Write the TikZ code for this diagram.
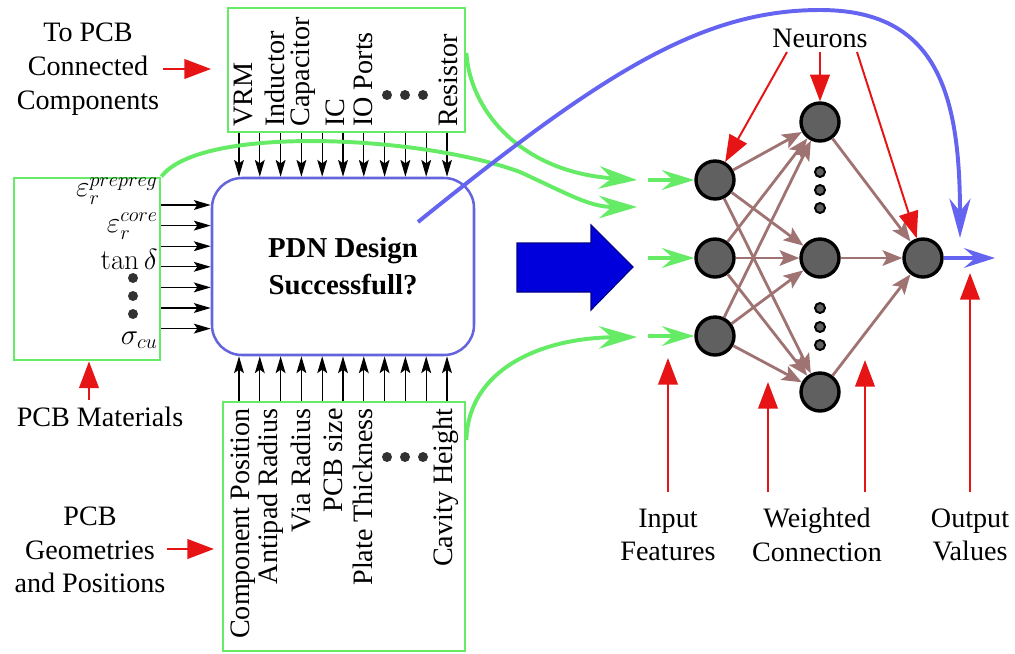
\documentclass[tikz,border=0pt]{standalone}
\usepackage[no-math]{fontspec}
\setmainfont{Liberation Serif}
\usetikzlibrary{arrows.meta,calc}
\newdimen\pxu \pxu=0.025cm
\definecolor{lgreen}{RGB}{102,235,102}
\definecolor{bbox}{RGB}{100,100,220}
\definecolor{bcurve}{RGB}{100,100,240}
\definecolor{bigfill}{RGB}{0,0,220}
\definecolor{bigdraw}{RGB}{0,0,140}
\definecolor{brn}{RGB}{160,115,115}
\definecolor{rd}{RGB}{230,20,20}
\definecolor{ngray}{RGB}{96,96,96}
\definecolor{dotc}{RGB}{50,50,50}
\tikzset{
  gbox/.style={draw=lgreen, line width=2pt, inner sep=0},
  pdnbox/.style={draw=bbox, line width=1.8pt, rounded corners=0.75cm, align=center, font=\fontsize{20.5}{26.5}\selectfont\bfseries},
  blk/.style={line width=0.9pt, -{Stealth[length=12pt,width=7pt,inset=2.5pt]}},
  redarr/.style={draw=rd, line width=1.4pt, -{Triangle[length=19pt,width=14pt]}},
  garr/.style={draw=lgreen, line width=2.8pt, -{Stealth[length=27pt,width=16pt,inset=9pt]}},
  gshort/.style={draw=lgreen, line width=2.8pt, -{Stealth[length=23pt,width=14pt,inset=8pt]}},
  brarr/.style={draw=brn, line width=2pt, -{Stealth[length=14pt,width=11pt,inset=3pt]}},
  bcur/.style={draw=bcurve, line width=2.8pt, -{Stealth[length=28pt,width=15pt,inset=9pt]}},
  neuron/.style={circle, draw=black, line width=2.4pt, fill=ngray, minimum size=38\pxu, inner sep=0},
  sdot/.style={circle, draw=black, line width=1.4pt, fill=ngray, minimum size=10\pxu, inner sep=0},
  bdot/.style={circle, fill=dotc, minimum size=10\pxu, inner sep=0},
  lbl/.style={align=center, inner sep=1pt},
}
\begin{document}
\begin{tikzpicture}[x=0.025cm, y=-0.025cm, font=\fontsize{20}{24}\selectfont]
\useasboundingbox (0,0) rectangle (1015,653);

% boxes
\node[gbox, minimum width=237\pxu, minimum height=124\pxu] (tb) at (346.5,70) {};
\node[gbox, minimum width=146\pxu, minimum height=182\pxu] (lb) at (87,269) {};
\node[gbox, minimum width=242\pxu, minimum height=249\pxu] (bb) at (344,526.5) {};
\node[pdnbox, minimum width=262\pxu, minimum height=177\pxu] (pdn) at (343,266.5) {PDN Design\\Successfull?};

% top box labels
\foreach \x/\t [count=\i] in {252/VRM, 284/Inductor, 309/Capacitor, 344/IC, 372/IO Ports, 457/Resistor}
  \node[rotate=90, anchor=base west, inner sep=0] (tl\i) at (\x,127) {\t};
\foreach \x [count=\i] in {387,405,423} \node[bdot] (td\i) at (\x,95) {};

% bottom box labels
\foreach \x/\t [count=\i] in {249/Component Position, 277/Antipad Radius, 310/Via Radius, 342/PCB size, 372/Plate Thickness, 452/Cavity Height}
  \node[rotate=90, anchor=base east, inner sep=0] (bl\i) at (\x,408) {\t};
\foreach \x [count=\i] in {387,405,423} \node[bdot] (bd\i) at (\x,457) {};

% left box labels
\node[anchor=east, align=right, inner sep=0, font=\fontsize{20}{25}\selectfont] (m1) at (158,208.5) {$\varepsilon_r^{prepreg}$\\$\varepsilon_r^{core}$};
\node[anchor=east, inner sep=0] (m3) at (158,259) {$\tan\delta$};
\node[anchor=east, inner sep=0] (m4) at (158,340) {$\sigma_{cu}$};
\foreach \y [count=\i] in {278,296,314} \node[bdot] (ld\i) at (133,\y) {};

% black arrows
\foreach \i in {0,...,10} {
  \draw[blk] (tb.south -| {239+20.8*\i},0) -- (pdn.north -| {239+20.8*\i},0);
  \draw[blk] (bb.north -| {239+20.8*\i},0) -- (pdn.south -| {239+20.8*\i},0);
}
\foreach \i in {0,...,6}
  \draw[blk] (lb.east |- 0,{205+20.6*\i}) -- (pdn.west |- 0,{205+20.6*\i});

% side labels
\node[lbl] (tpc) at (88,69) {To PCB\\Connected\\Components};
\coordinate (tpcA) at (163,69);
\coordinate (tpcB) at (211,69);
\draw[redarr] (tpcA) -- (tpcB);
\node[lbl] (pcbm) at (100,417) {PCB Materials};
\coordinate (pcbmA) at (89,400);
\draw[redarr] (pcbmA) -- (lb.south -| pcbmA);
\node[lbl] (pcbg) at (90,550) {PCB\\Geometries\\and Positions};
\coordinate (pcbgA) at (167,549);
\coordinate (pcbgB) at (214,549);
\draw[redarr] (pcbgA) -- (pcbgB);

% big blue arrow
\draw[draw=bigdraw, fill=bigfill, line width=0.8pt] (517,243) -- (591,243) -- (591,225) -- (633,267) -- (591,310) -- (591,292) -- (517,292) -- cycle;

% neurons
\node[neuron] (n11) at (715,180) {};
\node[neuron] (n12) at (715,258) {};
\node[neuron] (n13) at (715,336) {};
\node[neuron] (n21) at (820,122) {};
\node[neuron] (n22) at (820,258) {};
\node[neuron] (n23) at (820,392) {};
\node[neuron] (n3) at (923,258) {};
\foreach \y [count=\i] in {172,190,208,308,327,345} \node[sdot] (nd\i) at (820,\y) {};

\foreach \a in {1,2,3} \foreach \b in {1,2,3} \draw[brarr] (n1\a) -- (n2\b);
\foreach \b in {1,2,3} \draw[brarr] (n2\b) -- (n3);

% green connectors
\coordinate (ge1) at (637,180);
\coordinate (ge2) at (637,207);
\coordinate (ge3) at (637,337);
\draw[garr] (tb.east |- 0,53) .. controls (470,110) and (520,172) .. (ge1);
\draw[garr] (lb.north east) .. controls (200,125) and (420,135) .. (520,172) .. controls (570,195) and (590,207) .. (ge2);
\draw[garr] (bb.east |- 0,440) .. controls (468,370) and (540,338) .. (ge3);
\foreach \y [count=\i] in {180,258,336} {
  \coordinate (gs\i) at (648,\y);
  \draw[gshort] (gs\i) -- (n1\i);
}

% blue curve and output
\coordinate (bc0) at (418,222);
\coordinate (bc1) at (960,238);
\draw[bcur] (bc0) .. controls (600,75) and (700,10) .. (820,10) .. controls (935,10) and (960,90) .. (bc1);
\coordinate (outp) at (995,258);
\draw[draw=bcurve, line width=2.4pt, -{Stealth[length=22pt,width=14pt,inset=8pt]}] (n3) -- (outp);

% Neurons label
\node[lbl] (neur) at (820,38) {Neurons};
\draw[redarr] ($(neur)+(-33,14)$) -- (n11);
\draw[redarr] ($(neur)+(0,14)$) -- (n21);
\draw[redarr] ($(neur)+(37,14)$) -- (n3);

% bottom labels
\node[lbl] (inf) at (668,535) {Input\\Features};
\node[lbl] (wc) at (817,535) {Weighted\\Connection};
\node[lbl] (ov) at (970,535) {Output\\Values};
\coordinate (c1) at (668,358);
\coordinate (c2) at (768,382);
\coordinate (c3) at (865,360);
\coordinate (c4) at (970,273);
\draw[redarr] (inf.north |- 0,492) -- (c1);
\draw[redarr] (c2 |- 0,492) -- (c2);
\draw[redarr] (c3 |- 0,492) -- (c3);
\draw[redarr] (ov.north |- 0,492) -- (c4);
\end{tikzpicture}
\end{document}
